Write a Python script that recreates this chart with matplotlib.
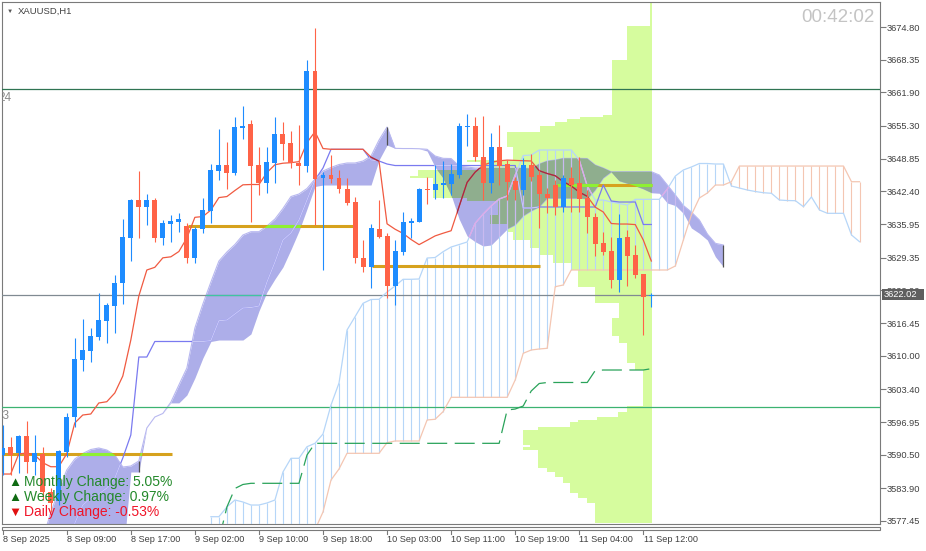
import numpy as np
import matplotlib
matplotlib.use("Agg")
import matplotlib.pyplot as plt
import matplotlib.transforms as mtransforms
from matplotlib.path import Path
from matplotlib.collections import LineCollection
from matplotlib.patches import Rectangle

plt.rcParams['font.family'] = ['Liberation Sans', 'DejaVu Sans']

# ---------------- data ----------------
opens = [3590.45, 3592.08, 3590.9, 3594.19, 3589.13, 3590.65, 3583.16, 3581.44, 3591.1, 3597.88,
         3609.17, 3611.0, 3613.76, 3616.92, 3619.81, 3624.41, 3633.31, 3640.7, 3639.27, 3640.7,
         3633.27, 3635.97, 3636.37, 3635.58, 3629.33, 3634.93, 3638.6, 3646.48, 3647.6, 3645.97,
         3654.95, 3655.68, 3647.6, 3644.11, 3647.94, 3653.71, 3651.88, 3647.94, 3647.46, 3666.13,
         3644.98, 3645.63, 3644.98, 3642.87, 3640.37, 3629.33, 3627.56, 3634.93, 3633.61, 3623.81,
         3630.4, 3636.23, 3636.43, 3642.77, 3642.67, 3643.66, 3643.86, 3645.63, 3655.15, 3655.29,
         3649.24, 3643.99, 3651.21, 3647.8, 3644.45, 3642.67, 3647.6, 3645.63, 3641.89, 3643.66,
         3639.38, 3645.1, 3643.99, 3641.04, 3637.3, 3632.17, 3630.65, 3624.94, 3633.35, 3629.87,
         3626.12, 3621.70]
highs = [3596.36, 3594.05, 3594.39, 3597.21, 3594.39, 3592.08, 3583.94, 3591.43, 3598.73, 3613.51,
         3617.25, 3615.48, 3622.38, 3620.4, 3625.92, 3636.96, 3640.9, 3646.42, 3641.89, 3641.1,
         3636.76, 3637.75, 3638.2, 3636.23, 3635.44, 3641.1, 3647.8, 3654.64, 3652.08, 3657.12,
         3659.23, 3656.47, 3651.21, 3651.21, 3657.0, 3656.14, 3654.36, 3655.49, 3668.3, 3674.54,
         3646.28, 3649.57, 3646.62, 3644.98, 3641.36, 3632.82, 3635.97, 3640.7, 3634.2, 3632.82,
         3638.34, 3637.22, 3643.13, 3645.3, 3647.6, 3648.39, 3647.74, 3655.94, 3657.59, 3657.12,
         3657.26, 3653.97, 3655.49, 3648.59, 3645.24, 3648.98, 3649.77, 3646.62, 3643.01, 3644.65,
         3645.63, 3647.15, 3649.24, 3642.67, 3638.08, 3634.46, 3633.47, 3637.88, 3634.79, 3631.84,
         3626.12, 3622.31]
lows = [3586.51, 3586.51, 3586.9, 3586.84, 3586.51, 3581.58, 3579.22, 3580.59, 3590.11, 3596.03,
        3607.06, 3608.84, 3613.11, 3612.58, 3614.55, 3620.21, 3628.78, 3633.16, 3635.78, 3632.49,
        3631.84, 3632.49, 3634.34, 3628.35, 3628.23, 3634.14, 3636.11, 3644.65, 3642.81, 3645.63,
        3652.67, 3636.43, 3641.69, 3642.08, 3644.11, 3648.59, 3646.95, 3643.66, 3646.28, 3635.78,
        3626.91, 3643.99, 3642.08, 3639.72, 3628.35, 3626.57, 3623.3, 3633.16, 3621.39, 3620.01,
        3629.87, 3633.16, 3636.37, 3639.86, 3640.84, 3641.04, 3641.69, 3644.98, 3651.35, 3648.39,
        3640.7, 3642.02, 3643.66, 3640.7, 3640.7, 3641.69, 3644.51, 3635.13, 3638.08, 3637.75,
        3638.4, 3638.4, 3638.4, 3634.14, 3629.67, 3629.87, 3623.3, 3622.63, 3623.76, 3625.27,
        3614.1, 3619.68]
closes = [3591.89, 3590.45, 3594.19, 3589.13, 3590.78, 3583.21, 3580.99, 3591.24, 3597.88, 3609.37,
          3611.14, 3613.9, 3617.05, 3620.01, 3624.35, 3633.41, 3640.8, 3639.27, 3640.7, 3633.27,
          3636.11, 3636.56, 3636.96, 3629.33, 3634.93, 3638.73, 3646.62, 3647.6, 3645.97, 3655.03,
          3655.35, 3647.4, 3644.11, 3648.13, 3653.71, 3651.74, 3647.94, 3647.46, 3666.13, 3644.84,
          3645.63, 3644.84, 3642.81, 3640.17, 3629.33, 3627.56, 3635.25, 3633.47, 3623.76, 3630.65,
          3636.37, 3636.56, 3642.87, 3642.67, 3643.86, 3644.11, 3645.83, 3655.29, 3655.35, 3649.24,
          3643.99, 3651.21, 3647.46, 3644.31, 3642.67, 3647.6, 3645.3, 3641.89, 3641.16, 3639.38,
          3645.1, 3643.66, 3640.9, 3637.3, 3631.97, 3630.51, 3624.94, 3633.27, 3629.67, 3625.92,
          3621.65, 3622.02]

# Tenkan-sen (bars 0..81)
tenkan = [3586.7, 3586.7, 3590.65, 3590.84, 3590.45, 3588.93, 3588.14, 3588.14, 3590.71, 3596.76,
          3598.33, 3598.53, 3600.7, 3600.95, 3602.67, 3606.02, 3613.11, 3621.78, 3626.91, 3627.44,
          3629.31, 3629.51, 3630.55, 3633.21, 3637.29, 3637.45, 3638.73, 3641.18, 3641.39, 3642.58,
          3643.7, 3643.76, 3643.76, 3646.12, 3647.66, 3647.96, 3648.06, 3648.27, 3652.02, 3654.16,
          3650.85, 3650.7, 3650.7, 3650.7, 3650.7, 3650.7, 3649.14, 3648.35, 3636.01, 3634.95,
          3634.12, 3632.92, 3631.91, 3632.76, 3633.63, 3634.16, 3634.65, 3639.44, 3644.19, 3646.2,
          3647.56, 3648.12, 3648.43, 3648.57, 3648.51, 3648.45, 3648.39, 3646.48, 3645.93, 3645.49,
          3644.33, 3643.48, 3642.26, 3641.43, 3639.29, 3638.34, 3636.07, 3635.97, 3635.97, 3635.86,
          3632.82, 3628.68]
# Kijun-sen (bars 9..81)
kijun_start = 9
kijun = [3577.0, 3580.59, 3581.97, 3582.76, 3583.94, 3585.92, 3589.86, 3594.39, 3609.76, 3609.76,
         3612.82, 3612.82, 3612.82, 3612.82, 3612.82, 3612.82, 3612.82, 3613.01, 3616.92, 3617.05,
         3618.24, 3619.42, 3619.52, 3619.81, 3624.54, 3628.48, 3632.82, 3634.2, 3636.76, 3640.7,
         3644.65, 3647.01, 3650.7, 3650.7, 3650.7, 3650.7, 3650.7, 3648.59, 3648.39, 3647.8,
         3647.5, 3647.5, 3647.5, 3647.5, 3647.5, 3647.5, 3647.5, 3647.5, 3647.5, 3647.5,
         3647.5, 3647.5, 3647.5, 3647.5, 3647.5, 3647.5, 3639.13, 3639.13, 3639.33, 3639.33,
         3639.33, 3639.33, 3639.33, 3639.33, 3639.33, 3639.33, 3643.66, 3640.51, 3640.31, 3640.31,
         3640.31, 3635.88, 3635.88]
# Senkou spans (bars 26..107)
span_start = 26
span_a = [3578.29, 3578.29, 3580.2, 3581.58, 3581.19, 3580.59, 3580.59, 3580.99, 3581.58, 3587.1,
          3589.8, 3589.8, 3592.08, 3592.75, 3594.59, 3600.3, 3604.64, 3615.08, 3617.7, 3620.35,
          3621.1, 3621.13, 3622.57, 3623.76, 3625.08, 3625.08, 3625.14, 3629.27, 3629.37, 3630.52,
          3631.44, 3631.93, 3632.43, 3636.11, 3637.94, 3639.52, 3640.9, 3641.49, 3645.63, 3649.47,
          3649.57, 3650.56, 3650.56, 3650.56, 3650.56, 3650.56, 3648.59, 3643.46, 3640.7, 3640.7,
          3640.31, 3640.01, 3639.72, 3640.84, 3640.84, 3640.84, 3640.84, 3642.87, 3645.43, 3646.62,
          3647.21, 3647.9, 3647.9, 3647.8, 3647.8, 3643.46, 3643.07, 3642.67, 3642.38, 3642.14,
          3642.03, 3640.7, 3640.6, 3640.57, 3639.38, 3641.3, 3638.73, 3638.08, 3638.08, 3638.08,
          3633.81, 3632.49]
span_b = [3570.0, 3570.0, 3570.0, 3570.0, 3570.0, 3570.0, 3570.0, 3570.0, 3570.0, 3570.0,
          3570.0, 3570.0, 3570.0, 3575.7, 3579.22, 3585.52, 3587.69, 3590.78, 3590.78, 3590.78,
          3590.78, 3590.78, 3592.88, 3593.21, 3593.21, 3593.21, 3593.21, 3597.35, 3597.49, 3598.99,
          3601.82, 3601.82, 3601.82, 3601.82, 3601.82, 3601.82, 3601.82, 3601.82, 3605.23, 3610.49,
          3611.14, 3611.34, 3611.48, 3623.62, 3623.95, 3626.91, 3626.91, 3626.91, 3626.91, 3626.91,
          3626.91, 3626.91, 3626.91, 3626.91, 3626.91, 3626.91, 3626.91, 3626.91, 3627.7, 3632.82,
          3637.75, 3641.1, 3642.08, 3643.66, 3643.66, 3644.31, 3647.4, 3647.4, 3647.4, 3647.4,
          3647.4, 3647.4, 3647.4, 3647.4, 3647.4, 3647.4, 3647.4, 3647.4, 3647.4, 3647.4,
          3644.31, 3644.31]
# lavender cloud band (bars 5..90): upper and lower edges
lav_start = 5
lav_up = [3574.0, 3579.02, 3583.55, 3587.49, 3589.66, 3590.74, 3591.53, 3591.83, 3591.43, 3590.45,
          3588.08, 3588.28, 3589.27, 3595.77, 3597.94, 3598.63, 3600.86, 3604.24, 3607.59, 3615.48,
          3620.21, 3624.54, 3628.68, 3630.46, 3631.94, 3633.81, 3634.46, 3634.46, 3635.58, 3636.96,
          3639.03, 3641.39, 3641.89, 3642.97, 3644.84, 3646.42, 3647.11, 3647.7, 3648.0, 3648.0,
          3648.39, 3649.38, 3652.53, 3655.09, 3650.89, 3650.85, 3650.85, 3650.81, 3650.7, 3649.38,
          3648.92, 3648.88, 3647.4, 3647.21, 3647.01, 3647.01, 3647.01, 3647.01, 3647.01, 3647.01,
          3647.01, 3646.91, 3647.8, 3648.39, 3648.59, 3648.92, 3648.92, 3648.92, 3648.88, 3647.6,
          3647.01, 3646.28, 3646.28, 3646.28, 3646.28, 3646.28, 3646.28, 3645.63, 3643.66, 3641.69,
          3639.62, 3638.34, 3636.76, 3634.0, 3632.17, 3631.84]
lav_lo = [3569.76, 3569.76, 3569.76, 3569.76, 3569.76, 3569.76, 3569.76, 3569.76, 3569.76, 3569.76,
          3569.76, 3587.1, 3587.1, 3595.77, 3597.94, 3598.63, 3600.72, 3600.72, 3602.27, 3605.63,
          3609.57, 3612.82, 3613.11, 3613.11, 3613.11, 3613.11, 3614.3, 3618.83, 3622.57, 3625.14,
          3627.5, 3630.95, 3634.6, 3638.93, 3643.37, 3643.66, 3643.66, 3643.66, 3643.66, 3643.66,
          3643.66, 3643.66, 3648.59, 3651.54, 3650.89, 3650.85, 3650.85, 3650.81, 3650.36, 3647.21,
          3645.04, 3641.69, 3636.96, 3633.61, 3632.49, 3631.64, 3631.84, 3633.41, 3634.99, 3635.78,
          3637.55, 3638.54, 3639.33, 3641.04, 3641.04, 3641.04, 3641.04, 3641.04, 3640.9, 3642.67,
          3645.04, 3646.22, 3644.45, 3643.96, 3643.46, 3642.87, 3642.14, 3642.03, 3640.11, 3639.62,
          3638.08, 3635.19, 3634.14, 3632.82, 3629.53, 3627.56]
lav_ends = [17, 48, 90]
# green dashed step line (bars 27..81)
dash_start = 27
dash_line = [3573.7, 3580.2, 3583.85, 3584.64, 3584.87, 3584.87, 3584.87, 3584.87, 3584.87, 3584.87,
             3584.87, 3590.45, 3592.75, 3592.75, 3592.75, 3592.75, 3592.75, 3592.75, 3592.75, 3592.75,
             3592.75, 3592.75, 3592.75, 3592.75, 3592.75, 3592.75, 3592.75, 3592.75, 3592.75, 3592.75,
             3592.75, 3592.75, 3592.75, 3592.75, 3592.75, 3592.75, 3599.32, 3599.51, 3600.1, 3603.06,
             3604.54, 3604.74, 3604.74, 3604.74, 3604.74, 3604.74, 3604.74, 3607.1, 3607.2, 3607.2,
             3607.2, 3607.2, 3607.2, 3607.2, 3607.46]
# volume profile: price bin edges (top->bottom) and bar length (in bars)
vp_edges = [3679.53, 3675.0, 3668.3, 3657.46, 3657.06, 3656.67, 3656.08, 3655.29, 3654.16, 3651.15,
            3648.59, 3648.19, 3646.62, 3645.43, 3645.04, 3641.1, 3640.51, 3637.75, 3635.97, 3634.4,
            3632.82, 3631.25, 3629.87, 3628.29, 3626.91, 3623.56, 3620.41, 3617.45, 3613.9, 3612.52,
            3608.58, 3607.2, 3600.1, 3598.92, 3597.94, 3597.35, 3596.95, 3595.97, 3595.38, 3592.42,
            3592.03, 3591.43, 3587.89, 3587.1, 3586.11, 3584.93, 3582.96, 3581.97, 3580.99, 3577.05]
vp_len = [0.21, 3.12, 5.0, 6.08, 8.95, 10.58, 12.08, 13.95, 18.11, 17.32,
          23.07, 21.45, 29.18, 30.18, 27.31, 23.1, 19.19, 20.19, 18.11, 17.32,
          15.2, 13.95, 12.33, 9.99, 9.2, 7.08, 4.08, 5.0, 4.08, 3.12,
          2.09, 1.05, 3.12, 4.17, 6.87, 9.17, 10.2, 14.16, 16.03, 15.2,
          16.03, 14.16, 13.11, 12.08, 11.04, 10.2, 9.17, 8.12, 7.08]
vp_anchor = 81.05
# daily POC lines
poc_price = [3590.6, 3635.58, 3627.7, 3643.66]
poc_from = [0.0, 23.2, 46.1, 69.2]
poc_to = [21.1, 43.8, 67.1, 81.05]
# horizontal levels and their (cut) labels
level_dark = 3662.52
level_green = 3599.97
level_labels = ["24", "23"]
level_label_x = [-0.55, -0.76]
last_price = 3622.02
price_ticks = [3674.80, 3668.35, 3661.90, 3655.30, 3648.85, 3642.40, 3635.95, 3629.35, 3622.90,
               3616.45, 3610.00, 3603.40, 3596.95, 3590.50, 3583.90, 3577.45]
time_tick_idx = [0, 8, 16, 24, 32, 40, 48, 56, 64, 72, 80]
time_tick_lbl = ["8 Sep 2025", "8 Sep 09:00", "8 Sep 17:00", "9 Sep 02:00", "9 Sep 10:00",
                 "9 Sep 18:00", "10 Sep 03:00", "10 Sep 11:00", "10 Sep 19:00", "11 Sep 04:00",
                 "11 Sep 12:00"]

# ---------------- colours ----------------
BLUE = '#1e8cff'; RED = '#ff6347'
LAV = '#adaee9'; LGREEN = '#d6fc9e'; GGREEN = '#8fae8e'
TENKAN = '#f05a41'; TENKAN_OV = '#a02a48'
KIJUN = '#7a7af0'; KIJUN_OV = '#c8c8f6'
SPA = '#b6d6f8'; SPB = '#f4c6b2'; SPA_OV = '#e2a6e8'
ORANGE = '#d6a21e'; ORANGE_OV = '#8ef032'
AXC = '#7a7a7a'; TXT = '#404040'

# ---------------- figure ----------------
W, H = 926, 551
fig = plt.figure(figsize=(W / 100, H / 100), dpi=100)
fig.patch.set_facecolor('white')
ax = fig.add_axes([2 / W, (H - 524) / H, 878 / W, 522 / H])
ax.set_xlim(-0.087, 109.56)
ax.set_ylim(3576.85, 3679.73)
for s in ax.spines.values():
    s.set_color(AXC); s.set_linewidth(0.8)

# volume profile (light green)
edges = np.array(vp_edges); lens = np.array(vp_len)
tops, bots = edges[:-1], edges[1:]
ax.barh((tops + bots) / 2, lens, height=tops - bots, left=vp_anchor - lens,
        color=LGREEN, lw=0, zorder=1)

# lavender band
lx = np.arange(lav_start, lav_start + len(lav_up))
lav = ax.fill_between(lx, lav_lo, lav_up, color=LAV, lw=0, zorder=2)
lav_path = Path.make_compound_path(*lav.get_paths())
ax.plot(lx, lav_up, color='#b8b8f0', lw=0.8, zorder=2.05)
lu = dict(zip(lx, lav_up)); ll = dict(zip(lx, lav_lo))
ax.vlines(lav_ends, [ll[i] for i in lav_ends], [lu[i] for i in lav_ends],
          colors='#505050', lw=0.9, zorder=2.6)

# overlap of profile and lavender (grey-green)
gg = ax.barh((tops + bots) / 2, lens, height=tops - bots, left=vp_anchor - lens,
             color=GGREEN, lw=0, zorder=2.5)
for r in gg:
    r.set_clip_path(lav_path, ax.transData)


def clipped_copy(artist):
    artist.set_clip_path(lav_path, ax.transData)
    return artist


# Ichimoku hatched cloud
sx = np.arange(span_start, span_start + len(span_a))
segs = [[(i, a), (i, b)] for i, a, b in zip(sx, span_a, span_b)]
hcols = [SPA if a >= b else SPB for a, b in zip(span_a, span_b)]
ax.add_collection(LineCollection(segs, colors=hcols, lw=0.8, zorder=3))
ax.add_collection(clipped_copy(LineCollection(segs, colors='#c9b9f0', lw=0.8, zorder=3.01)))
ax.plot(sx, span_a, color=SPA, lw=0.9, zorder=4)
clipped_copy(ax.plot(sx, span_a, color=SPA_OV, lw=0.9, zorder=4.01)[0])
ax.plot(sx, span_b, color=SPB, lw=0.9, zorder=4)

# horizontal levels
ax.axhline(level_dark, color='#2f7452', lw=0.9, zorder=3.5)
ax.axhline(level_green, color='#3cb371', lw=0.9, zorder=3.5)
ax.axhline(last_price, color='#808a92', lw=0.9, zorder=3.5)
clipped_copy(ax.axhline(last_price, color='#3fc4a2', lw=0.9, zorder=3.51))
for lvl, lab, lxp in zip([level_dark, level_green], level_labels, level_label_x):
    ax.text(lxp, lvl - 2.4, lab, color='#8a8a8a', fontsize=8.5, va='baseline',
            clip_on=True, zorder=9)

# green dashed line
dx_ = np.arange(dash_start, dash_start + len(dash_line))
ax.plot(dx_, dash_line, color='#2aa35a', lw=0.9, dashes=(16, 6), zorder=4)

# POC lines
for p, a, b in zip(poc_price, poc_from, poc_to):
    ax.plot([a, b], [p, p], color=ORANGE, lw=2.2, solid_capstyle='butt', zorder=4.2)
    clipped_copy(ax.plot([a, b], [p, p], color=ORANGE_OV, lw=2.2, solid_capstyle='butt',
                         zorder=4.21)[0])

# kijun & tenkan
kx = np.arange(kijun_start, kijun_start + len(kijun))
ax.plot(kx, kijun, color=KIJUN, lw=0.9, zorder=5)
clipped_copy(ax.plot(kx, kijun, color=KIJUN_OV, lw=0.9, zorder=5.01)[0])
tx = np.arange(len(tenkan))
ax.plot(tx, tenkan, color=TENKAN, lw=0.9, zorder=5.1)
clipped_copy(ax.plot(tx, tenkan, color=TENKAN_OV, lw=0.9, zorder=5.11)[0])

# candles
o = np.array(opens); h = np.array(highs); l = np.array(lows); c = np.array(closes)
ci = np.arange(len(o))
cols = np.where(c >= o, BLUE, RED)
ax.vlines(ci, l, h, colors=cols, lw=0.8, zorder=6)
bot = np.minimum(o, c); hgt = np.maximum(np.abs(c - o), 0.22)
ax.bar(ci, hgt, bottom=bot, width=0.62, color=cols, lw=0, zorder=6.1)

# right price axis
ax.yaxis.tick_right()
ax.set_yticks(price_ticks)
ax.set_yticklabels([f"{p:.2f}" for p in price_ticks])
ax.tick_params(axis='y', length=4, width=0.8, color=AXC, labelsize=6.7, labelcolor=TXT, pad=0.8)
ax.set_xticks([])

# current price box (covers the neighbouring tick label, as in the terminal)
bl = mtransforms.blended_transform_factory(ax.transAxes, ax.transData)
ax.add_patch(Rectangle((1.002, last_price - 1.05), 0.048, 2.1, transform=bl,
                       facecolor='#5f5f5f', edgecolor='none', clip_on=False, zorder=20))
ax.text(1.0045, last_price, f"{last_price:.2f}", transform=bl, color='white', fontsize=6.7,
        va='center', ha='left', clip_on=False, zorder=21)
fig.canvas.draw()
for t, p in zip(ax.get_yticklabels(), price_ticks):
    if abs(p - last_price) < 2.0:
        keep = Rectangle((1.0, last_price + 1.05), 0.06, 6.0, transform=bl)
        t.set_clip_path(keep)
        t.set_clip_on(True)

# time axis
bx = mtransforms.blended_transform_factory(ax.transData, ax.transAxes)
ax.add_patch(Rectangle((0, -0.0115), 1, 0.0063, transform=ax.transAxes, facecolor='white',
                       edgecolor=AXC, lw=0.8, clip_on=False, zorder=20))
for i, lab in zip(time_tick_idx, time_tick_lbl):
    ax.plot([i, i], [-0.0115, -0.0195], transform=bx, color=AXC, lw=0.8, clip_on=False)
    ax.text(i + 0.03, -0.0205, lab, transform=bx, fontsize=6.6, color=TXT, ha='left',
            va='top', clip_on=False)

# texts
fig.text(6.3 / W, 1 - 13 / H, "\u25BC", fontsize=4.5, color='#555555', va='baseline')
fig.text(17.3 / W, 1 - 14 / H, "XAUUSD,H1", fontsize=6.8, color=TXT, va='baseline')
fig.text(875 / W, 1 - 21.7 / H, "00:42:02", fontsize=13.5, color='#c4c4c4', ha='right',
         va='baseline')
chg = [("\u25B2", "Monthly Change: 5.05%", '#0f6a12', '#23892a', 486),
       ("\u25B2", "Weekly Change: 0.97%", '#0f6a12', '#23892a', 501),
       ("\u25BC", "Daily Change: -0.53%", '#e01010', '#f01428', 515.7)]
for tri, txt, tc, cc, yb in chg:
    fig.text(8.5 / W, 1 - yb / H, tri, fontsize=9.5, color=tc, va='baseline', zorder=30)
    fig.text(24 / W, 1 - yb / H, txt, fontsize=10, color=cc, va='baseline', zorder=30)

fig.savefig("out.png", dpi=100, facecolor='white')
